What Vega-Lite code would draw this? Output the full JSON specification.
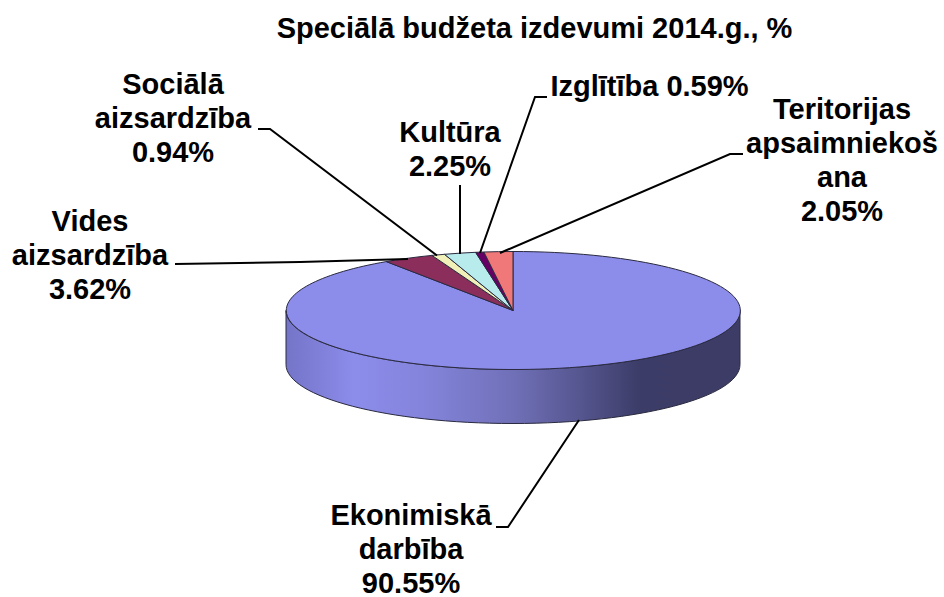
{
"$schema":"https://vega.github.io/schema/vega-lite/v6.json",
"width":944,"height":597,"padding":0,"autosize":{"type":"none"},
"background":"white",
"title":{"text":"Speciālā budžeta izdevumi 2014.g., %","font":"Liberation Sans","fontWeight":"bold","fontSize":29,"color":"black","anchor":"middle","baseline":"alphabetic","offset":0,"dx":62.5,"dy":67},
"config":{"view":{"stroke":null}},
"data":{"values":[
{"category":"Ekonomiskā darbība","value":90.55,"label":"Ekonimiskā\ndarbība\n90.55%"},
{"category":"Vides aizsardzība","value":3.62,"label":"Vides\naizsardzība\n3.62%"},
{"category":"Sociālā aizsardzība","value":0.94,"label":"Sociālā\naizsardzība\n0.94%"},
{"category":"Kultūra","value":2.25,"label":"Kultūra\n2.25%"},
{"category":"Izglītība","value":0.59,"label":"Izglītība 0.59%"},
{"category":"Teritorijas apsaimniekošana","value":2.05,"label":"Teritorijas\napsaimniekoš\nana\n2.05%"}
]},
"layer":[
{"transform":[{"filter":"datum.category==='Ekonomiskā darbība'"}],
 "mark":{"type":"point","size":4,"filled":true,"opacity":1,"stroke":"#2a2a40","strokeWidth":1,
  "shape":"M-186,12 A227,59 0 0 0 268,12 L268,66 A227,59 0 0 1 -186,66 Z",
  "fill":{"gradient":"linear","x1":0,"y1":0,"x2":1,"y2":0,"stops":[{"offset":0,"color":"#7474c8"},{"offset":0.15,"color":"#8c8ceb"},{"offset":0.3,"color":"#8484dc"},{"offset":0.5,"color":"#7070b8"},{"offset":0.65,"color":"#55558f"},{"offset":0.78,"color":"#3c3c68"},{"offset":1,"color":"#3c3c66"}]}},
 "encoding":{}},
{"mark":{"type":"point","size":4,"filled":true,"opacity":1,"stroke":"#2a2a40","strokeWidth":1},
 "encoding":{
  "shape":{"field":"category","type":"nominal","legend":null,"scale":{"domain":["Ekonomiskā darbība","Vides aizsardzība","Sociālā aizsardzība","Kultūra","Izglītība","Teritorijas apsaimniekošana"],
   "range":["M41,12 L41,-47 A227,59 0 1 1 -85.7,-36.9 Z","M41,12 L-85.7,-36.9 A227,59 0 0 1 -40.1,-43.1 Z","M41,12 L-40.1,-43.1 A227,59 0 0 1 -27.5,-44.2 Z","M41,12 L-27.5,-44.2 A227,59 0 0 1 3.6,-46.2 Z","M41,12 L3.6,-46.2 A227,59 0 0 1 11.9,-46.5 Z","M41,12 L11.9,-46.5 A227,59 0 0 1 41,-47 Z"]}},
  "color":{"field":"category","type":"nominal","legend":null,"scale":{"domain":["Ekonomiskā darbība","Vides aizsardzība","Sociālā aizsardzība","Kultūra","Izglītība","Teritorijas apsaimniekošana"],"range":["#8c8ceb","#8b2e5c","#f0f0b8","#b8ecec","#660066","#f07878"]}}
 }},
{"mark":{"type":"point","size":4,"filled":false,"opacity":1,"stroke":"black","strokeWidth":2,"fill":null},
 "encoding":{
  "shape":{"field":"category","type":"nominal","legend":null,"scale":{"domain":["Ekonomiskā darbība","Vides aizsardzība","Sociālā aizsardzība","Kultūra","Izglītība","Teritorijas apsaimniekošana"],
   "range":["M24,228.5 L36,228.5 L107,121.5","M-297,-34.5 L-172,-36.5 L-64,-39.5","M-214,-169.5 L-202,-169.5 L-35,-43","M-12,-113.5 L-12,-44.5","M75,-201.5 L63,-201.5 L8,-45.5","M271,-144.5 L258,-144.5 L28,-45.5"]}}
 }},
{"mark":{"type":"text","font":"Liberation Sans","fontWeight":"bold","fontSize":29,"color":"black","align":"center","baseline":"alphabetic","lineBreak":"\n","lineHeight":34},
 "encoding":{
  "x":{"field":"value","type":"quantitative","axis":null,"scale":{"zero":false,"nice":false,"domain":[0.59,0.94,2.05,2.25,3.62,90.55],"range":[649.5,173,842,450,90,411]}},
  "y":{"field":"value","type":"quantitative","axis":null,"scale":{"zero":false,"nice":false,"domain":[0.59,0.94,2.05,2.25,3.62,90.55],"range":[96,94,119,142,231,525]}},
  "text":{"field":"label","type":"nominal"}
 }}
],
"resolve":{"scale":{"shape":"independent","color":"independent"}}
}
